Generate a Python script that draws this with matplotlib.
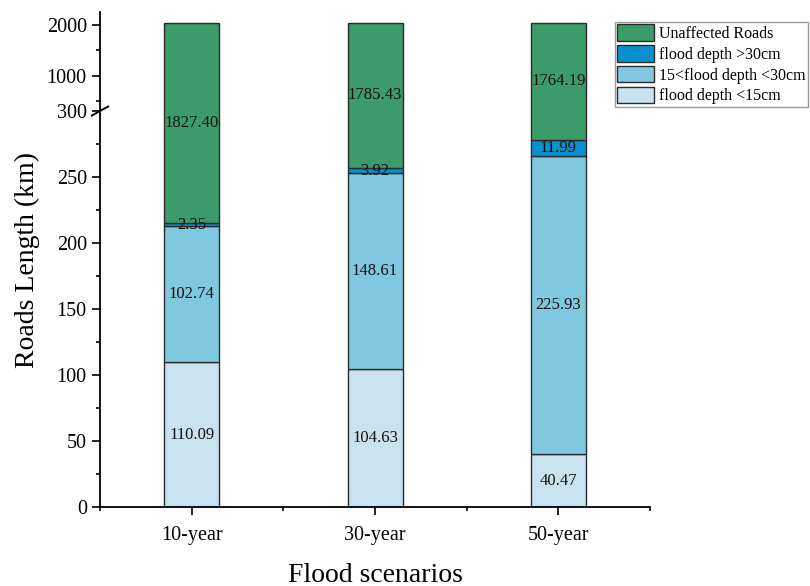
import numpy as np
import matplotlib
matplotlib.use("Agg")
import matplotlib.pyplot as plt
from matplotlib.markers import MarkerStyle
from matplotlib.transforms import Affine2D, blended_transform_factory

plt.rcParams['font.family'] = ['Liberation Serif', 'DejaVu Serif']

scenarios = ['10-year', '30-year', '50-year']
depth_lt15 = [110.09, 104.63, 40.47]
depth_15_30 = [102.74, 148.61, 225.93]
depth_gt30 = [2.35, 3.92, 11.99]
unaffected = [1827.40, 1785.43, 1764.19]

series = [
    ('flood depth <15cm', depth_lt15, '#c8e2f0'),
    ('15<flood depth <30cm', depth_15_30, '#7fc8df'),
    ('flood depth >30cm', depth_gt30, '#0b90cf'),
    ('Unaffected Roads', unaffected, '#3c9b6a'),
]

# broken axis: linear below 300, compressed above
BREAK = 300.0
RATIO = 0.0386


def fwd(v):
    v = np.asarray(v, dtype=float)
    return np.where(v <= BREAK, v, BREAK + (v - BREAK) * RATIO)


def inv(u):
    u = np.asarray(u, dtype=float)
    return np.where(u <= BREAK, u, BREAK + (u - BREAK) / RATIO)


fig = plt.figure(figsize=(8.1, 5.86), dpi=100)
ax = fig.add_axes([0.1235, 0.134, 0.679, 0.846])
ax.set_yscale('function', functions=(fwd, inv))

x = np.arange(len(scenarios))
bottom = np.zeros(len(scenarios))
handles = {}
for name, vals, color in series:
    vals = np.array(vals)
    bars = ax.bar(x, vals, width=0.3, bottom=bottom, color=color,
                  edgecolor='#2b2b2b', linewidth=1.0, label=name)
    handles[name] = bars
    for xi, b, v in zip(x, bottom, vals):
        # centre of the segment as drawn on the broken scale
        mid = float(inv((fwd(b) + fwd(b + v)) / 2))
        ax.text(xi, mid, f'{v:.2f}', ha='center', va='center',
                fontsize=12, color='#111111')
    bottom = bottom + vals

ax.set_xlim(-0.5, 2.5)
ax.set_ylim(0, 2255)

ax.set_yticks([0, 50, 100, 150, 200, 250, 300, 1000, 2000])
ax.set_yticks([25, 75, 125, 175, 225, 275, 500, 1500], minor=True)
ax.set_xticks(x)
ax.set_xticklabels(scenarios)
ax.set_xticks([-0.5, 0.5, 1.5, 2.5], minor=True)
ax.tick_params(axis='both', which='major', direction='out', length=6,
               width=1.2, labelsize=14.5)
ax.tick_params(axis='both', which='minor', direction='out', length=3,
               width=1.2)
ax.tick_params(axis='x', which='major', pad=7)

for side in ['top', 'right']:
    ax.spines[side].set_visible(False)
for side in ['left', 'bottom']:
    ax.spines[side].set_linewidth(1.3)

# slash across the spine where the axis breaks
trans = blended_transform_factory(ax.transAxes, ax.transData)
ax.plot([0], [BREAK], transform=trans, clip_on=False, color='black',
        marker=MarkerStyle('_', transform=Affine2D().rotate_deg(29)),
        markersize=15, markeredgewidth=1.4)

ax.set_xlabel('Flood scenarios', fontsize=20, labelpad=13)
ax.set_ylabel('Roads Length (km)', fontsize=20, labelpad=5)

order = ['Unaffected Roads', 'flood depth >30cm', '15<flood depth <30cm',
         'flood depth <15cm']
leg = fig.legend([handles[k] for k in order], order,
                 loc='upper left', bbox_to_anchor=(615 / 810, 1 - 22 / 586),
                 bbox_transform=fig.transFigure, fontsize=11.5,
                 frameon=True, fancybox=False, framealpha=1,
                 edgecolor='#9a9a9a', borderpad=0.15, labelspacing=0.2,
                 handlelength=2.3, handleheight=1.2, handletextpad=0.3,
                 borderaxespad=0)
leg.get_frame().set_linewidth(1.0)

fig.savefig('out.png', dpi=100)
